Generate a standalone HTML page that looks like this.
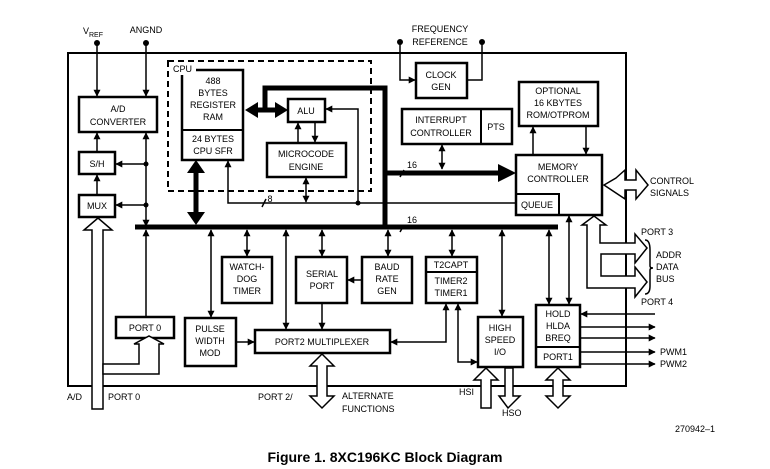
<!DOCTYPE html>
<html><head><meta charset="utf-8"><style>
html,body{margin:0;padding:0;background:#fff;}
svg{display:block;}
text{font-family:"Liberation Sans",sans-serif;font-size:9px;fill:#000;}
</style></head><body>
<svg width="770" height="469" viewBox="0 0 770 469" xmlns="http://www.w3.org/2000/svg">
<defs>
<marker id="a" viewBox="0 0 10 10" refX="9" refY="5" markerWidth="7" markerHeight="7" markerUnits="userSpaceOnUse" orient="auto-start-reverse"><path d="M0,0L10,5L0,10z"/></marker>
</defs>
<g fill="none" stroke="#000" stroke-width="2">
<rect x="68" y="53" width="558" height="333"/>
<rect x="168" y="61" width="203" height="130" stroke-dasharray="6,4"/>
<rect x="79" y="97" width="78" height="35" stroke-width="2.5"/>
<rect x="79" y="152" width="36" height="22" stroke-width="2.5"/>
<rect x="79" y="195" width="36" height="22" stroke-width="2.5"/>
<rect x="182" y="70" width="61" height="90" stroke-width="2.5"/>
<line x1="182" y1="130" x2="243" y2="130"/>
<rect x="288" y="99" width="37" height="23" stroke-width="2.5"/>
<rect x="267" y="143" width="79" height="34" stroke-width="2.5"/>
<rect x="416" y="63" width="51" height="35" stroke-width="2.5"/>
<rect x="402" y="109" width="110" height="35" stroke-width="2.5"/>
<line x1="481" y1="109" x2="481" y2="144"/>
<rect x="519" y="82" width="79" height="44" stroke-width="2.5"/>
<rect x="516" y="155" width="86" height="60" stroke-width="2.5"/>
<rect x="516" y="194" width="43" height="21"/>
<rect x="222" y="257" width="50" height="46" stroke-width="2.5"/>
<rect x="296" y="257" width="51" height="46" stroke-width="2.5"/>
<rect x="362" y="257" width="50" height="46" stroke-width="2.5"/>
<rect x="426" y="257" width="51" height="46" stroke-width="2.5"/>
<line x1="426" y1="272" x2="477" y2="272"/>
<rect x="116" y="317" width="58" height="21" stroke-width="2.5"/>
<rect x="185" y="318" width="51" height="48" stroke-width="2.5"/>
<rect x="255" y="330" width="135" height="23" stroke-width="2.5"/>
<rect x="478" y="317" width="45" height="50" stroke-width="2.5"/>
<rect x="536" y="305" width="44" height="62" stroke-width="2.5"/>
<line x1="536" y1="347" x2="580" y2="347"/>
</g>
<rect x="171" y="63" width="25" height="12" fill="#fff"/>
<text x="173" y="72">CPU</text>
<g stroke="#000" fill="none">
<line x1="135" y1="227" x2="558" y2="227" stroke-width="5"/>
<polyline points="265,110 265,88 385,88 385,227" stroke-width="5"/>
<line x1="385" y1="173" x2="498" y2="173" stroke-width="5"/>
<line x1="258" y1="110" x2="278" y2="110" stroke-width="5"/>
<line x1="196" y1="172" x2="196" y2="213" stroke-width="5"/>
</g>
<g fill="#000">
<polygon points="498,164 516,173 498,182"/>
<polygon points="245,110 258,102 258,118"/>
<polygon points="288,110 275,102 275,118"/>
<polygon points="196,160 187,173 205,173"/>
<polygon points="196,225 187,212 205,212"/>
</g>
<g stroke="#000" stroke-width="1.5" fill="none">
<line x1="97" y1="43" x2="97" y2="96" marker-end="url(#a)"/>
<line x1="146" y1="43" x2="146" y2="96" marker-end="url(#a)"/>
<line x1="146" y1="226" x2="146" y2="133" marker-start="url(#a)" marker-end="url(#a)"/>
<line x1="146" y1="164" x2="116" y2="164" marker-end="url(#a)"/>
<line x1="146" y1="205" x2="116" y2="205" marker-end="url(#a)"/>
<line x1="97" y1="152" x2="97" y2="133" marker-end="url(#a)"/>
<line x1="97" y1="195" x2="97" y2="175" marker-end="url(#a)"/>
<polyline points="228,161 228,203 516,203" marker-start="url(#a)"/>
<polyline points="358,203 358,109 326,109" marker-end="url(#a)"/>
<line x1="306" y1="178" x2="306" y2="202" marker-start="url(#a)" marker-end="url(#a)"/>
<line x1="298" y1="142" x2="298" y2="123" marker-end="url(#a)"/>
<line x1="315" y1="122" x2="315" y2="142" marker-end="url(#a)"/>
<polyline points="400,42 400,80 415,80" marker-end="url(#a)"/>
<polyline points="482,42 482,80 468,80"/>
<line x1="442" y1="145" x2="442" y2="169" marker-start="url(#a)" marker-end="url(#a)"/>
<line x1="533" y1="155" x2="533" y2="127" marker-end="url(#a)"/>
<line x1="586" y1="127" x2="586" y2="154" marker-end="url(#a)"/>
<line x1="247" y1="230" x2="247" y2="256" marker-start="url(#a)" marker-end="url(#a)"/>
<line x1="322" y1="230" x2="322" y2="256" marker-start="url(#a)" marker-end="url(#a)"/>
<line x1="388" y1="230" x2="388" y2="256" marker-start="url(#a)" marker-end="url(#a)"/>
<line x1="452" y1="230" x2="452" y2="256" marker-start="url(#a)" marker-end="url(#a)"/>
<line x1="211" y1="230" x2="211" y2="317" marker-start="url(#a)" marker-end="url(#a)"/>
<line x1="286" y1="230" x2="286" y2="329" marker-start="url(#a)" marker-end="url(#a)"/>
<line x1="502" y1="230" x2="502" y2="316" marker-start="url(#a)" marker-end="url(#a)"/>
<line x1="549" y1="230" x2="549" y2="304" marker-start="url(#a)" marker-end="url(#a)"/>
<line x1="569" y1="216" x2="569" y2="304" marker-start="url(#a)" marker-end="url(#a)"/>
<line x1="146" y1="316" x2="146" y2="230" marker-end="url(#a)"/>
<line x1="362" y1="280" x2="348" y2="280" marker-end="url(#a)"/>
<line x1="322" y1="303" x2="322" y2="329" marker-end="url(#a)"/>
<line x1="236" y1="342" x2="254" y2="342" marker-end="url(#a)"/>
<polyline points="391,342 446,342 446,304" marker-start="url(#a)" marker-end="url(#a)"/>
<polyline points="458,304 458,362 477,362" marker-start="url(#a)" marker-end="url(#a)"/>
<line x1="655" y1="314" x2="581" y2="314" marker-end="url(#a)"/>
<line x1="580" y1="327" x2="655" y2="327" marker-end="url(#a)"/>
<line x1="580" y1="338" x2="655" y2="338" marker-end="url(#a)"/>
<line x1="580" y1="352" x2="655" y2="352" marker-end="url(#a)"/>
<line x1="580" y1="364" x2="655" y2="364" marker-end="url(#a)"/>
<line x1="404" y1="170" x2="400" y2="177"/>
<line x1="404" y1="225" x2="400" y2="232"/>
<line x1="266" y1="199" x2="262" y2="207"/>
<path d="M645,240 Q650,240 650,250 L650,266 Q650,268 653,268 Q650,268 650,270 L650,286 Q650,294 645,294"/>
</g>
<g fill="#000">
<circle cx="97" cy="43" r="3"/><circle cx="146" cy="43" r="3"/>
<circle cx="400" cy="42" r="3"/><circle cx="482" cy="42" r="3"/>
<circle cx="146" cy="164" r="2.5"/><circle cx="146" cy="205" r="2.5"/>
<circle cx="358" cy="203" r="2.5"/>
</g>
<g fill="#fff" stroke="#000" stroke-width="1.5">
<polygon points="92,409 92,230 84,230 98,218 112,230 103,230 103,409"/>
<polygon points="103,374 159,374 159,344 164,344 149,336 134,344 139,344 139,364 103,364"/>
<polygon points="616,178 625,170 625,180 636,180 636,170 648,185 636,199 636,190 625,190 625,199 604,185 616,178"/>
<polygon points="587,225 582,225 594,216 606,225 600,225 600,243 635,243 635,234 647,248 635,263 635,254 601,254 601,276 635,276 635,267 647,282 635,297 635,288 587,288"/>
<polygon points="317,366 310,366 322,354 334,366 327,366 327,396 334,396 322,408 310,396 317,396"/>
<polygon points="481,408 481,380 474,380 486,368 498,380 491,380 491,408"/>
<polygon points="505,368 505,396 499,396 508,408 520,396 513,396 513,368"/>
<polygon points="553,380 546,380 558,368 570,380 563,380 563,396 570,396 558,408 546,396 553,396"/>
</g>
<g text-anchor="middle">
<text x="93" y="34">V<tspan font-size="7" dy="3">REF</tspan></text>
<text x="146" y="33">ANGND</text>
<text x="118" y="112">A/D</text><text x="118" y="125">CONVERTER</text>
<text x="97" y="167">S/H</text><text x="97" y="209">MUX</text>
<text x="213" y="84">488</text><text x="213" y="96">BYTES</text><text x="213" y="108">REGISTER</text><text x="213" y="120">RAM</text>
<text x="213" y="142">24 BYTES</text><text x="213" y="154">CPU SFR</text>
<text x="306" y="114">ALU</text>
<text x="306" y="157">MICROCODE</text><text x="306" y="170">ENGINE</text>
<text x="440" y="32">FREQUENCY</text><text x="440" y="45">REFERENCE</text>
<text x="441" y="78">CLOCK</text><text x="441" y="90">GEN</text>
<text x="441" y="123">INTERRUPT</text><text x="441" y="136">CONTROLLER</text>
<text x="496" y="130">PTS</text>
<text x="558" y="94">OPTIONAL</text><text x="558" y="106">16 KBYTES</text><text x="558" y="118">ROM/OTPROM</text>
<text x="558" y="170">MEMORY</text><text x="558" y="182">CONTROLLER</text>
<text x="537" y="208">QUEUE</text>
<text x="412" y="168">16</text><text x="412" y="223">16</text><text x="270" y="202">8</text>
<text x="247" y="270">WATCH-</text><text x="247" y="282">DOG</text><text x="247" y="294">TIMER</text>
<text x="322" y="277">SERIAL</text><text x="322" y="289">PORT</text>
<text x="387" y="270">BAUD</text><text x="387" y="282">RATE</text><text x="387" y="294">GEN</text>
<text x="451" y="268">T2CAPT</text><text x="451" y="284">TIMER2</text><text x="451" y="296">TIMER1</text>
<text x="145" y="331">PORT 0</text>
<text x="210" y="332">PULSE</text><text x="210" y="344">WIDTH</text><text x="210" y="356">MOD</text>
<text x="322" y="345">PORT2 MULTIPLEXER</text>
<text x="500" y="331">HIGH</text><text x="500" y="343">SPEED</text><text x="500" y="355">I/O</text>
<text x="558" y="317">HOLD</text><text x="558" y="329">HLDA</text><text x="558" y="341">BREQ</text>
<text x="558" y="360">PORT1</text>
</g>
<text x="650" y="184">CONTROL</text><text x="650" y="196">SIGNALS</text>
<text x="641" y="235">PORT 3</text>
<text x="656" y="258">ADDR</text><text x="656" y="270">DATA</text><text x="656" y="282">BUS</text>
<text x="641" y="305">PORT 4</text>
<text x="660" y="355">PWM1</text><text x="660" y="367">PWM2</text>
<text x="67" y="400">A/D</text><text x="108" y="400">PORT 0</text>
<text x="258" y="400">PORT 2/</text>
<text x="342" y="399">ALTERNATE</text><text x="342" y="412">FUNCTIONS</text>
<text x="459" y="395">HSI</text><text x="502" y="416">HSO</text>
<text x="675" y="432">270942–1</text>
<text x="385" y="462" text-anchor="middle" style="font-size:14px;font-weight:bold">Figure 1. 8XC196KC Block Diagram</text>
</svg>
</body></html>
